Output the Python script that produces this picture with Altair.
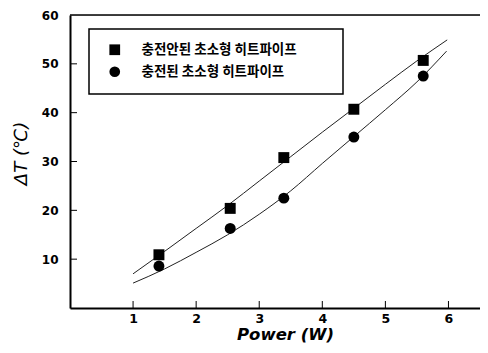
import altair as alt
import pandas as pd

series_names = ["충전안된 초소형 히트파이프", "충전된 초소형 히트파이프"]

power_pts = [1.41, 2.54, 3.39, 4.5, 5.6]
dt_uncharged = [10.9, 20.4, 30.8, 40.7, 50.7]
dt_charged = [8.6, 16.3, 22.5, 35.0, 47.5]

fit_power_uncharged = [1.0, 1.5, 2.0, 2.5, 3.0, 3.5, 4.0, 4.5, 5.0, 5.5, 5.98]
fit_uncharged = [7.0, 11.6, 16.3, 21.0, 26.0, 31.0, 36.0, 40.9, 45.8, 50.6, 54.9]
fit_power_charged = [1.0, 1.5, 2.0, 2.5, 3.0, 3.5, 4.0, 4.5, 5.0, 5.5, 5.97]
fit_charged = [5.1, 8.0, 11.4, 15.0, 19.2, 24.0, 29.6, 35.1, 40.6, 46.3, 52.6]

y_ticks = [10, 20, 30, 40, 50, 60]
x_ticks = [1, 2, 3, 4, 5, 6]

W, H = 410, 293

pts = pd.DataFrame({
    "power": power_pts * 2,
    "dt": dt_uncharged + dt_charged,
    "series": [series_names[0]] * 5 + [series_names[1]] * 5,
})
fits = pd.DataFrame({
    "power": fit_power_uncharged + fit_power_charged,
    "dt": fit_uncharged + fit_charged,
    "series": [series_names[0]] * len(fit_uncharged) + [series_names[1]] * len(fit_charged),
})

xscale = alt.Scale(domain=[0, 6.5], nice=False, zero=False)
yscale = alt.Scale(domain=[0, 60], nice=False, zero=False)

xaxis = alt.Axis(values=x_ticks, format="d", ticks=False, grid=False, title="Power (W)",
                 domainWidth=2, domainColor="black", labelPadding=4,
                 labelFont="DejaVu Sans", labelFontSize=12.5, labelFontWeight="bold", labelColor="black",
                 titleFont="DejaVu Sans", titleFontSize=16.5, titleFontStyle="italic",
                 titleFontWeight="bold", titleColor="black", titleX=215, titlePadding=2)
yaxis = alt.Axis(values=y_ticks, format="d", ticks=False, grid=False, title="ΔT (℃)",
                 domainWidth=2, domainColor="black", labelPadding=12,
                 labelFont="DejaVu Sans", labelFontSize=12, labelFontWeight="bold", labelColor="black",
                 titleFont="DejaVu Sans", titleFontSize=18, titleFontStyle="italic",
                 titleFontWeight="normal", titleColor="black", titleX=-40, titleY=138)

lines = alt.Chart(fits).mark_line(interpolate="monotone", color="#222", strokeWidth=1).encode(
    x=alt.X("power:Q", scale=xscale, axis=xaxis),
    y=alt.Y("dt:Q", scale=yscale, axis=yaxis),
    detail="series:N",
)

points = alt.Chart(pts).mark_point(filled=True, opacity=1, color="black", size=120).encode(
    x=alt.X("power:Q", scale=xscale),
    y=alt.Y("dt:Q", scale=yscale),
    shape=alt.Shape("series:N", scale=alt.Scale(domain=series_names, range=["square", "circle"]),
                    legend=alt.Legend(title=None, orient="none", legendX=19, legendY=14,
                                      padding=14, symbolOffset=5, symbolSize=115,
                                      symbolFillColor="black", symbolStrokeColor="black",
                                      labelFont="Noto Sans CJK KR", labelFontSize=13.5,
                                      labelFontWeight="bold", labelColor="black",
                                      labelOffset=20, rowPadding=4)),
)

# legend frame
frame = alt.Chart(pd.DataFrame({"v": [0]})).mark_rect(
    fill="white", stroke="black", strokeWidth=1.5
).encode(x=alt.value(19), x2=alt.value(273), y=alt.value(14), y2=alt.value(79))

ydf = pd.DataFrame({"v": y_ticks[:-1]})
yt = alt.Chart(ydf).mark_rule(color="black", strokeWidth=1).encode(
    y=alt.Y("v:Q", scale=yscale), x=alt.value(0), x2=alt.value(7))
xdf = pd.DataFrame({"v": x_ticks})
xt = alt.Chart(xdf).mark_rule(color="black", strokeWidth=1).encode(
    x=alt.X("v:Q", scale=xscale), y=alt.value(H), y2=alt.value(H - 7))

top = alt.Chart(pd.DataFrame({"v": [60]})).mark_rule(color="black", strokeWidth=1.5).encode(
    y=alt.Y("v:Q", scale=yscale), x=alt.value(0), x2=alt.value(W))

chart = alt.layer(frame, lines, points, yt, xt, top).properties(
    width=W, height=H,
    autosize=alt.AutoSizeParams(type="none"),
    padding={"left": 62, "top": 7, "right": 0, "bottom": 37},
).configure_view(stroke=None).configure(background="white")

chart.save("out.html", embed_options={"renderer": "svg", "actions": False})
